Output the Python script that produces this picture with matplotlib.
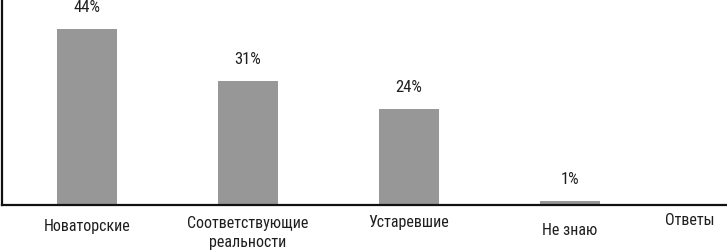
import matplotlib
matplotlib.use("Agg")
import matplotlib.pyplot as plt
from matplotlib import font_manager
from matplotlib.font_manager import FontProperties
from matplotlib.transforms import offset_copy

categories = ["Новаторские", "Соответствующие\nреальности", "Устаревшие", "Не знаю"]
values = [44, 31, 24, 1]
value_labels = ["44%", "31%", "24%", "1%"]
axis_title = "Ответы"

# pick a condensed sans font if one is installed
cand = None
prefs = ["LiberationSansNarrow-Regular", "RobotoCondensed-Regular", "DejaVuSansCondensed.ttf",
         "OpenSans_Condensed-Regular", "OpenSansCondensed"]
files = [f.fname for f in font_manager.fontManager.ttflist]
for p in prefs:
    for fn in files:
        if p.lower() in fn.lower().replace(" ", ""):
            cand = fn
            break
    if cand:
        break
if cand is None:
    for fn in files:
        low = fn.lower()
        if ("narrow" in low or "condensed" in low) and "bold" not in low and "oblique" not in low and "italic" not in low:
            cand = fn
            break

def fp(size):
    if cand:
        return FontProperties(fname=cand, size=size)
    return FontProperties(family="DejaVu Sans", stretch="condensed", size=size)

W, H = 727, 252
fig = plt.figure(figsize=(W / 100, H / 100), dpi=100)
ax = fig.add_axes([2 / W, (H - 205) / H, 1 - 2 / W, 205 / H])

x = list(range(len(categories)))
ax.bar(x, values, width=0.373, color="#979797", zorder=2)

ax.set_xlim(-0.528, 3.975)
ax.set_ylim(0, 51.25)

for s in ["top", "right"]:
    ax.spines[s].set_visible(False)
for s in ["left", "bottom"]:
    ax.spines[s].set_linewidth(1.6)
    ax.spines[s].set_color("#111111")
ax.set_xticks([])
ax.set_yticks([])

# value labels
for xi, v, lab in zip(x, values, value_labels):
    tr = offset_copy(ax.transData, fig=fig, x=0, y=10, units="points")
    ax.text(xi, v, lab, transform=tr, ha="center", va="bottom",
            fontproperties=fp(12), color="#1e1e1e", clip_on=False)

# category labels
pads = [14, 11, 10, 18]
for xi, cat, p in zip(x, categories, pads):
    tr = offset_copy(ax.get_xaxis_transform(), fig=fig, x=0, y=-p * 0.72, units="points")
    ax.text(xi, 0, cat, transform=tr, ha="center", va="top", fontproperties=fp(11.5),
            color="#1e1e1e", linespacing=1.35)

fig.text(690 / W, 1 - 213 / H, axis_title, ha="center", va="top",
         fontproperties=fp(11.5), color="#1e1e1e")

fig.savefig("out.png", dpi=100)
